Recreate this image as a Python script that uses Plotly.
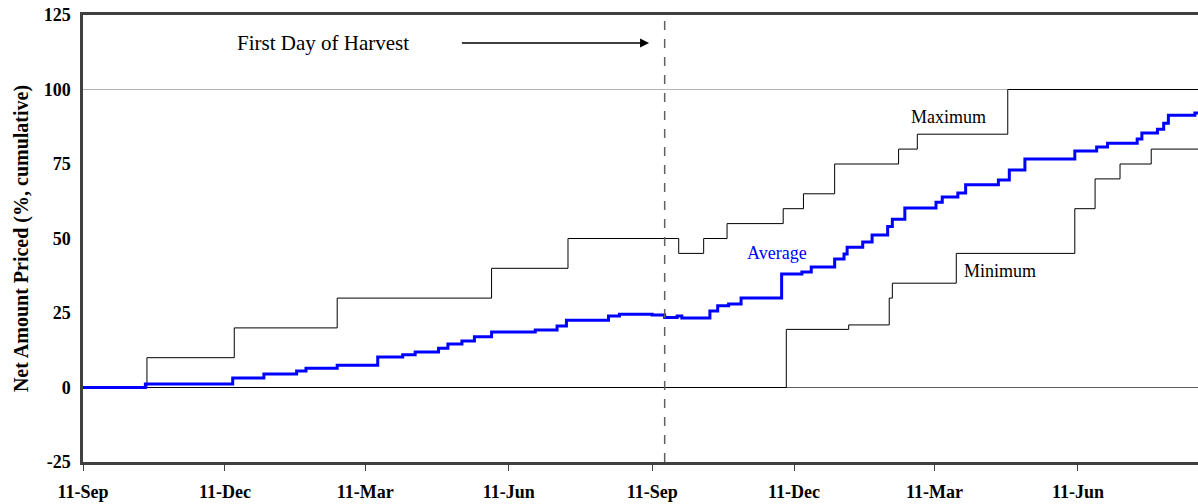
import plotly.graph_objects as go

# ---- data ----
max_dates = ["2005-09-11", "2005-10-22", "2005-12-17", "2006-02-21", "2006-05-31",
             "2006-07-19", "2006-09-28", "2006-10-14", "2006-10-29", "2006-12-04",
             "2006-12-17", "2007-01-06", "2007-02-16", "2007-02-28", "2007-04-27",
             "2007-08-27"]
max_vals = [0, 10, 20, 30, 40, 50, 45, 50, 55, 60, 65, 75, 80, 85, 100, 100]

min_dates = ["2005-09-11", "2006-12-06", "2007-01-15", "2007-02-10", "2007-02-12",
             "2007-03-25", "2007-06-09", "2007-06-22", "2007-07-08", "2007-07-28",
             "2007-08-27"]
min_vals = [0, 19.5, 21, 30, 35, 45, 60, 70, 75, 80, 80]

avg_dates = ["2005-09-11", "2005-10-21", "2005-12-16", "2006-01-05", "2006-01-26",
             "2006-02-01", "2006-02-21", "2006-03-19", "2006-04-04", "2006-04-12",
             "2006-04-27", "2006-05-03", "2006-05-12", "2006-05-20", "2006-05-31",
             "2006-06-28", "2006-07-12", "2006-07-18", "2006-08-14", "2006-08-21",
             "2006-09-11", "2006-09-19", "2006-09-27", "2006-09-30", "2006-10-18",
             "2006-10-23", "2006-10-30", "2006-11-07", "2006-12-03", "2006-12-16",
             "2006-12-22", "2007-01-06", "2007-01-12", "2007-01-14", "2007-01-24",
             "2007-01-30", "2007-02-09", "2007-02-12", "2007-02-20", "2007-03-12",
             "2007-03-16", "2007-03-26", "2007-03-31", "2007-04-21", "2007-04-28",
             "2007-05-08", "2007-06-09", "2007-06-23", "2007-06-30", "2007-07-19",
             "2007-07-22", "2007-08-01", "2007-08-05", "2007-08-08", "2007-08-25",
             "2007-08-27"]
avg_vals = [0, 1.2, 3.2, 4.5, 5.5, 6.5, 7.5, 10.2, 11, 11.9,
            13.2, 14.6, 15.6, 17, 18.6, 19.3, 20.6, 22.6, 24, 24.6,
            24.3, 23.5, 24, 23.3, 25.7, 27.4, 28, 30, 38.1, 38.8,
            40.4, 43.1, 44.8, 47.1, 48.8, 51.2, 54, 56.5, 60.2, 62.2,
            63.9, 65.3, 68, 69.6, 73, 76.7, 79.4, 80.7, 82, 83.4,
            85.4, 86.7, 88.7, 91.4, 92.1, 92.1]

tick_dates = ["2005-09-11", "2005-12-11", "2006-03-11", "2006-06-11",
              "2006-09-11", "2006-12-11", "2007-03-11", "2007-06-11"]
tick_text = ["11-Sep", "11-Dec", "11-Mar", "11-Jun",
             "11-Sep", "11-Dec", "11-Mar", "11-Jun"]
y_ticks = [-25, 0, 25, 50, 75, 100, 125]
y_tick_text = ["-25", "0", "25", "50", "75", "100", "125"]

harvest_date = "2006-09-19"
x_range = ["2005-09-11", "2007-08-27"]

FONT = "Liberation Serif"

fig = go.Figure()
fig.add_trace(go.Scatter(x=max_dates, y=max_vals, mode="lines", line_shape="hv",
                         line=dict(color="black", width=1), showlegend=False))
fig.add_trace(go.Scatter(x=min_dates, y=min_vals, mode="lines", line_shape="hv",
                         line=dict(color="black", width=1), showlegend=False))
fig.add_trace(go.Scatter(x=avg_dates, y=avg_vals, mode="lines", line_shape="hv",
                         line=dict(color="#0000ff", width=3), showlegend=False))

# reference line at 100
fig.add_shape(type="line", xref="paper", x0=0, x1=1, yref="y", y0=100, y1=100,
              line=dict(color="#b4b4b4", width=1), layer="below")
# harvest dashed line
fig.add_shape(type="line", xref="x", x0=harvest_date, x1=harvest_date,
              yref="y", y0=-25, y1=125,
              line=dict(color="#606060", width=1.5, dash="dash"))

fig.add_annotation(x="2006-09-09", y=115.6, ax="2006-05-11", ay=115.6,
                   xref="x", yref="y", axref="x", ayref="y", text="",
                   showarrow=True, arrowhead=2, arrowsize=1.2, arrowwidth=1.5,
                   arrowcolor="black")
fig.add_annotation(x="2006-02-12", y=115.6, text="First Day of Harvest",
                   showarrow=False, font=dict(family=FONT, size=21, color="black"))
fig.add_annotation(x="2007-03-20", y=90.8, text="Maximum", showarrow=False,
                   font=dict(family=FONT, size=18, color="black"))
fig.add_annotation(x="2006-11-30", y=45.1, text="Average", showarrow=False,
                   font=dict(family=FONT, size=18, color="#0000ff"))
fig.add_annotation(x="2007-04-22", y=39.1, text="Minimum", showarrow=False,
                   font=dict(family=FONT, size=18, color="black"))

fig.update_layout(
    width=1198, height=504,
    margin=dict(l=83, r=0, t=15, b=42),
    plot_bgcolor="white", paper_bgcolor="white",
    font=dict(family=FONT, color="black"),
    xaxis=dict(type="date", range=x_range, tickvals=tick_dates, ticktext=tick_text,
               automargin=False,
               showgrid=False, zeroline=False, showline=True, mirror=True,
               linecolor="#404040", linewidth=2.5, ticks="outside", ticklen=6,
               tickcolor="#404040", tickwidth=1, ticklabelstandoff=6,
               tickfont=dict(family=FONT, size=18, color="black", weight="bold")),
    yaxis=dict(range=[-25, 125], tickvals=y_ticks, ticktext=y_tick_text,
               showgrid=False, automargin=False,
               zeroline=True, zerolinecolor="#606060", zerolinewidth=1,
               showline=True, linecolor="#404040", linewidth=2.5, ticks="",
               ticklabelstandoff=6,
               tickfont=dict(family=FONT, size=18, color="black", weight="bold"),
               title=dict(text="Net Amount Priced (%, cumulative)", standoff=10,
                          font=dict(family=FONT, size=20, color="black", weight="bold"))),
)

fig.write_html("out.html", config={"displayModeBar": False},
               post_script="document.body.style.margin='0';document.body.style.overflow='hidden';")
